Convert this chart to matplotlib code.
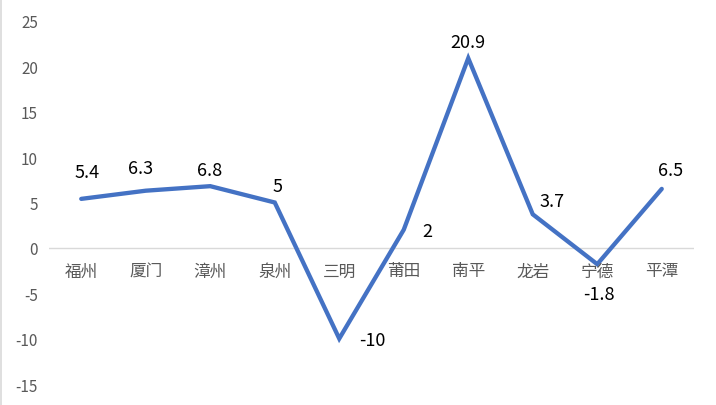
import matplotlib
matplotlib.use('Agg')
import matplotlib.pyplot as plt

plt.rcParams['font.family'] = ['Noto Sans CJK SC', 'DejaVu Sans']
plt.rcParams['axes.unicode_minus'] = False

cities = ['福州', '厦门', '漳州', '泉州', '三明', '莆田', '南平', '龙岩', '宁德', '平潭']
values = [5.4, 6.3, 6.8, 5, -10, 2, 20.9, 3.7, -1.8, 6.5]
value_texts = ['5.4', '6.3', '6.8', '5', '-10', '2', '20.9', '3.7', '-1.8', '6.5']
# label offsets in pixels (dx, dy), as placed in the original
offsets = [(6, 27), (-5, 23), (-1, 16), (3, 16), (33, -1), (24, -1), (0, 16), (19, 13), (2, -30), (9, 19)]

fig = plt.figure(figsize=(7.16, 4.06), dpi=100)
ax = fig.add_axes([49 / 716, 21 / 406, 645 / 716, 363 / 406])

x = list(range(len(cities)))
ax.plot(x, values, color='#4472C4', linewidth=3.1, solid_capstyle='round', solid_joinstyle='miter', zorder=3)
ax.axhline(0, color='#d9d9d9', linewidth=1, zorder=1)

for i in x:
    ax.annotate(value_texts[i], (i, values[i]), xytext=offsets[i], textcoords='offset pixels',
                ha='center', va='center', fontsize=13, color='black')

for i in x:
    ax.annotate(cities[i], (i, 0), xytext=(0, -23), textcoords='offset pixels',
                ha='center', va='center', fontsize=12, color='#595959')

ax.set_xlim(-0.5, 9.5)
ax.set_ylim(-15, 25)
ax.set_yticks(range(-15, 30, 5))
ax.set_xticks([])
ax.tick_params(axis='y', length=0, labelsize=11, labelcolor='#595959', pad=8)
for s in ax.spines.values():
    s.set_visible(False)

fig.add_artist(plt.Line2D([0.7 / 716, 0.7 / 716], [0, 1], color='#d9d9d9', linewidth=1.2, transform=fig.transFigure))

fig.savefig('out.png', dpi=100)
